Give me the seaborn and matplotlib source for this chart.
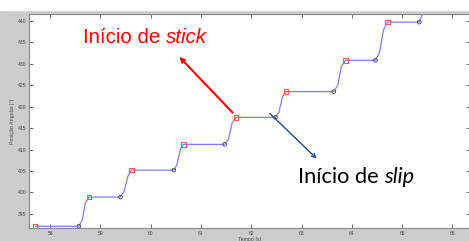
import numpy as np
import pandas as pd
import matplotlib
matplotlib.use("Agg")
import matplotlib.pyplot as plt
from matplotlib.patches import Rectangle
import seaborn as sns

# curva de posição (tempo [s], posição angular [°])
tempo = [57.70, 58.57, 58.64, 58.70, 58.77,
         59.40, 59.47, 59.55, 59.62,
         60.46, 60.52, 60.59, 60.65,
         61.47, 61.55, 61.62, 61.70,
         62.48, 62.55, 62.62, 62.69,
         63.64, 63.72, 63.79, 63.87,
         64.47, 64.55, 64.63, 64.71,
         65.34, 65.40, 65.45]
posicao = [392.1, 392.1, 393.6, 397.5, 398.9,
           398.9, 400.2, 403.9, 405.2,
           405.2, 406.4, 410.0, 411.2,
           411.2, 412.5, 416.2, 417.5,
           417.5, 418.7, 422.3, 423.5,
           423.5, 425.0, 429.3, 430.8,
           430.8, 432.6, 437.9, 439.7,
           439.7, 441.5, 444.0]

# inicio de stick (quadrados) e inicio de slip (circulos)
stick_t = [57.70, 58.77, 59.62, 60.65, 61.70, 62.69, 63.87, 64.71]
stick_y = [392.1, 398.9, 405.2, 411.2, 417.5, 423.5, 430.8, 439.7]
slip_t = [58.57, 59.40, 60.46, 61.47, 62.48, 63.64, 64.47, 65.34]
slip_y = [392.1, 398.9, 405.2, 411.2, 417.5, 423.5, 430.8, 439.7]

xticks = [58, 59, 60, 61, 62, 63, 64, 65, 66]
yticks = [395, 400, 405, 410, 415, 420, 425, 430, 435, 440]

sns.set_style("ticks")
plt.rcParams['font.family'] = ['Liberation Sans', 'DejaVu Sans']

fig = plt.figure(figsize=(4.69, 2.41), dpi=100, facecolor='#cccccc')
fig.patches.append(Rectangle((0, 1 - 10/241), 1, 10/241, transform=fig.transFigure,
                             color='white', zorder=0))
ax = fig.add_axes([29/469, 1 - 228/241, 441/469, 214/241])
ax.set_facecolor('white')

df = pd.DataFrame({"t": tempo, "y": posicao})
sns.lineplot(data=df, x="t", y="y", ax=ax, sort=False, estimator=None,
             color='#7f7fff', linewidth=0.9, zorder=2)
sns.scatterplot(x=stick_t, y=stick_y, ax=ax, marker='s', s=11,
                facecolor='none', edgecolor='#ff5a5a', linewidth=0.8, zorder=3)
sns.scatterplot(x=slip_t, y=slip_y, ax=ax, marker='o', s=7,
                facecolor='none', edgecolor='#404040', linewidth=0.6, zorder=3)

ax.set_xlim(57.58, 66.35)
ax.set_ylim(391.7, 441.6)
ax.set_xticks(xticks)
ax.set_yticks(yticks)
ax.tick_params(direction='in', length=3, width=0.6, colors='#555555',
               labelsize=3.6, labelcolor='#444444', top=True, right=True, pad=2)
for s in ax.spines.values():
    s.set_visible(True)
    s.set_color('#888888')
    s.set_linewidth(0.8)
ax.set_xlabel("Tempo [s]", fontsize=3.8, color='#444444', labelpad=1)
ax.set_ylabel("Posição Angular [°]", fontsize=3.8, color='#444444', labelpad=2)

# anotacoes
ax.annotate("", xy=(60.57, 431.6), xytext=(61.63, 418.6),
            arrowprops=dict(arrowstyle='->', color='red', lw=1.5,
                            mutation_scale=7, shrinkA=0, shrinkB=0), zorder=4)
ax.annotate("", xy=(63.30, 407.9), xytext=(62.37, 418.4),
            arrowprops=dict(arrowstyle='->', color='#1f4e8c', lw=1.0,
                            mutation_scale=7, shrinkA=0, shrinkB=0), zorder=4)

t1 = ax.text(58.65, 434.9, "Início de ", color='red', fontsize=14.8,
             family=['Liberation Sans', 'DejaVu Sans'], va='baseline', ha='left')
ax.annotate("stick", xy=(1, 0), xycoords=t1, va='bottom', ha='left',
            color='red', fontsize=14.8, style='italic',
            family=['Liberation Sans', 'DejaVu Sans'])

t2 = ax.text(62.93, 402.2, "Início de ", color='black', fontsize=15.7,
             family=['Lato', 'DejaVu Sans'], va='baseline', ha='left')
ax.annotate("slip", xy=(1, 0), xycoords=t2, va='bottom', ha='left',
            color='black', fontsize=15.7, style='italic',
            family=['Lato', 'DejaVu Sans'])

fig.savefig("out.png", dpi=100, facecolor=fig.get_facecolor())
